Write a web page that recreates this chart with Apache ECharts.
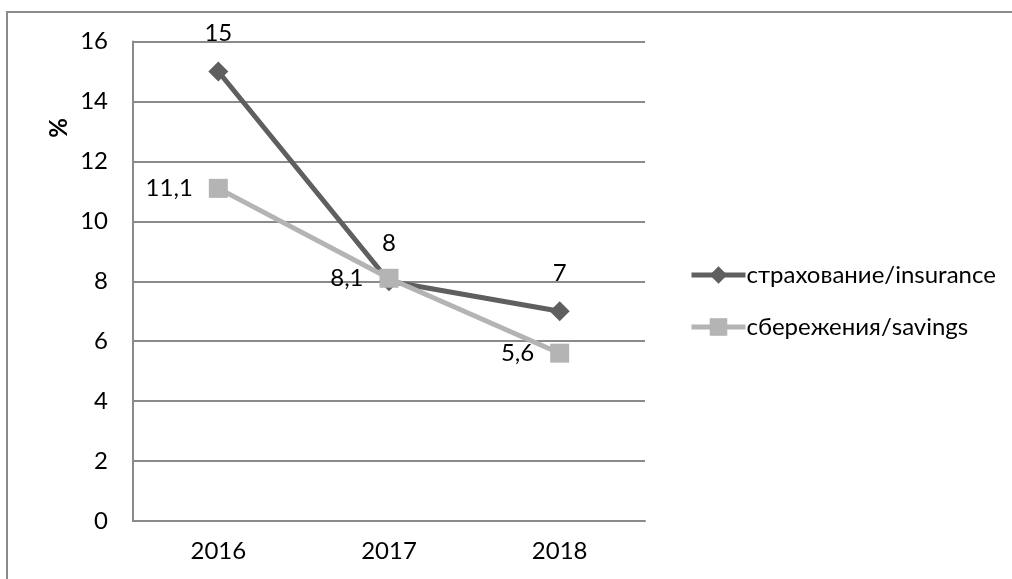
<!DOCTYPE html>
<html>
<head>
<meta charset="utf-8">
<script src="https://cdn.jsdelivr.net/npm/echarts@6/dist/echarts.min.js"></script>
<style>
  html, body { margin: 0; padding: 0; background: #fff; }
  #chart { width: 1012px; height: 579px; }
</style>
</head>
<body>
<div id="chart"></div>
<script>
// Years on the category axis
const years = ['2016', '2017', '2018'];
// Share, %
const insurance = [15, 8, 7];
const savings = [11.1, 8.1, 5.6];
// Series names
const insuranceName = 'страхование/insurance';
const savingsName = 'сбережения/savings';
// Value axis
const yMin = 0, yMax = 16, yStep = 2;

const FONT = 'Lato';
const FS = 24;
const fmtComma = p => String(p.value).replace('.', ',');

const chart = echarts.init(document.getElementById('chart'), null, { renderer: 'canvas' });

chart.setOption({
  animation: false,
  backgroundColor: '#ffffff',
  textStyle: { fontFamily: FONT },
  grid: { left: 133, right: 367, top: 41.5, bottom: 58, containLabel: false },
  graphic: [
    {
      type: 'rect',
      shape: { x: 7, y: 12, width: 1200, height: 800 },
      style: { fill: 'none', stroke: '#8a8a8a', lineWidth: 2 },
      silent: true
    },
    {
      type: 'text',
      x: 59, y: 128,
      rotation: Math.PI / 2,
      style: {
        text: '%',
        fontFamily: FONT, fontSize: 24, fontWeight: 'bold',
        fill: '#000', align: 'center', verticalAlign: 'middle'
      }
    }
  ],
  legend: {
    orient: 'vertical',
    left: 684,
    top: 258,
    itemWidth: 54,
    itemHeight: 22,
    itemGap: 28,
    lineStyle: { width: 5 },
    textStyle: { fontFamily: FONT, fontSize: FS, color: '#000', padding: [0, 0, 0, -4] },
    data: [insuranceName, savingsName]
  },
  xAxis: {
    type: 'category',
    data: years,
    boundaryGap: true,
    axisLine: { show: true, lineStyle: { color: '#8a8a8a', width: 2 } },
    axisTick: { show: false },
    axisLabel: { fontFamily: FONT, fontSize: FS, color: '#000', margin: 18 }
  },
  yAxis: {
    type: 'value',
    min: yMin, max: yMax, interval: yStep,
    axisLine: { show: true, lineStyle: { color: '#8a8a8a', width: 2 } },
    axisTick: { show: false },
    splitLine: { show: true, lineStyle: { color: '#8a8a8a', width: 2 } },
    axisLabel: { fontFamily: FONT, fontSize: FS, color: '#000', margin: 25 }
  },
  series: [
    {
      name: insuranceName,
      type: 'line',
      data: insurance,
      z: 2,
      symbol: 'diamond',
      symbolSize: 20,
      lineStyle: { color: '#5f5f5f', width: 5 },
      itemStyle: { color: '#5f5f5f' },
      label: {
        show: true, position: 'top', distance: 16,
        fontFamily: FONT, fontSize: FS, color: '#000',
        formatter: fmtComma
      }
    },
    {
      name: savingsName,
      type: 'line',
      data: savings,
      z: 3,
      symbol: 'rect',
      symbolSize: 19,
      lineStyle: { color: '#b4b4b4', width: 5 },
      itemStyle: { color: '#b4b4b4' },
      label: {
        show: true, position: 'left', distance: 16,
        fontFamily: FONT, fontSize: FS, color: '#000',
        formatter: fmtComma
      }
    }
  ]
});
</script>
</body>
</html>
